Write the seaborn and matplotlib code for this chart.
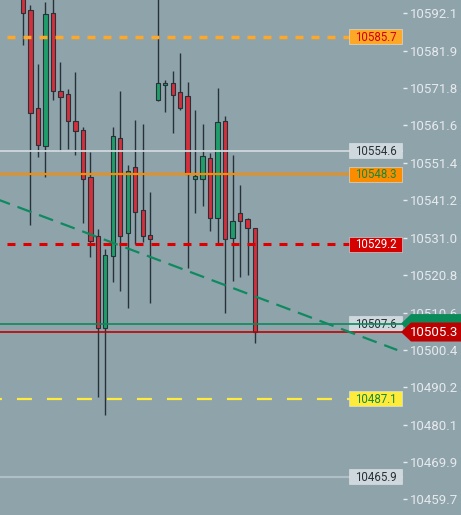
import matplotlib
matplotlib.use("Agg")
import matplotlib.pyplot as plt
import matplotlib.transforms as mtransforms
from matplotlib.patches import Polygon, Rectangle
import seaborn as sns

# candles, oldest -> newest
opens = [10598.0, 10593.0, 10566.3, 10556.0, 10592.2, 10570.9, 10570.1, 10562.8,
         10560.3, 10547.5, 10531.5, 10506.4, 10526.0, 10558.1, 10532.3, 10550.2,
         10538.5, 10531.7, 10568.5, 10572.6, 10573.1, 10570.7, 10569.6, 10547.0,
         10547.0, 10552.7, 10536.4, 10562.8, 10530.9, 10537.7, 10536.1, 10533.6]
highs = [10601.0, 10594.4, 10578.3, 10595.2, 10597.1, 10578.8, 10571.5, 10576.1,
         10561.1, 10554.3, 10533.4, 10527.9, 10561.1, 10570.9, 10550.8, 10563.0,
         10562.0, 10543.4, 10598.4, 10573.9, 10576.4, 10581.3, 10573.4, 10565.8,
         10562.0, 10554.1, 10571.8, 10564.1, 10553.5, 10545.3, 10536.4, 10533.6]
lows = [10583.5, 10534.5, 10553.0, 10547.5, 10568.5, 10554.6, 10555.1, 10553.5,
        10535.0, 10525.7, 10487.6, 10482.7, 10518.9, 10516.5, 10511.8, 10529.3,
        10529.8, 10513.2, 10568.2, 10565.2, 10559.5, 10565.8, 10522.7, 10537.7,
        10539.6, 10532.8, 10529.3, 10510.5, 10519.2, 10520.3, 10520.8, 10502.3]
closes = [10592.2, 10565.0, 10556.2, 10591.9, 10570.9, 10569.3, 10562.8, 10560.0,
          10547.0, 10530.1, 10506.4, 10526.3, 10558.7, 10531.5, 10549.2, 10538.0,
          10531.5, 10530.6, 10573.1, 10573.1, 10569.9, 10566.3, 10548.3, 10547.8,
          10553.2, 10536.4, 10562.5, 10530.6, 10535.5, 10535.5, 10533.6, 10505.3]

price_ticks = [10592.1, 10581.9, 10571.8, 10561.6, 10551.4, 10541.2, 10531.0,
               10520.8, 10510.6, 10500.4, 10490.2, 10480.1, 10469.9, 10459.7]

# horizontal levels
level_prices = [10585.7, 10554.6, 10548.3, 10529.2, 10507.6, 10487.1, 10465.9]
last_price = 10505.3

# trend line
trend_x = [-3.1, 50.0]
trend_y = [10541.2, 10500.4]

BG = "#8fa3ab"
UP = "#1f9e6b"
DOWN = "#d32f3c"
DARK = "#263238"

sns.set_style("dark", {"axes.facecolor": BG, "figure.facecolor": BG})
plt.rcParams["font.family"] = ["Roboto", "DejaVu Sans"]
plt.rcParams["lines.scale_dashes"] = False

fig = plt.figure(figsize=(4.61, 5.15), dpi=100)
ax = fig.add_axes([0, 0, 403 / 461, 1])
ax.set_xlim(-3.07, 50.77)
ax.set_ylim(10455.47, 10595.72)

# candles
xs = list(range(len(opens)))
cols = [UP if c >= o else DOWN for o, c in zip(opens, closes)]
ax.vlines(xs, lows, highs, color=DARK, linewidth=1.0, zorder=2)
ax.bar(xs, [abs(c - o) for o, c in zip(opens, closes)],
       bottom=[min(o, c) for o, c in zip(opens, closes)],
       width=0.58, color=cols, edgecolor=DARK, linewidth=0.8, zorder=3)

# level lines: color, width, dashes
styles = [
    ("#ffa726", 2.5, (6.5, (5.76, 5.76))),
    ("#cfd8dc", 1.3, None),
    ("#fb8c00", 1.6, None),
    ("#dd0000", 2.2, (6.5, (5.76, 5.76))),
    ("#0b8a5a", 1.2, None),
    ("#ffeb3b", 1.6, (9.4, (10.8, 10.8))),
    ("#b0bec5", 1.6, None),
]
xl = ax.get_xlim()
for p, (c, lw, ls) in zip(level_prices, styles):
    ax.plot(xl, [p, p], color=c, linewidth=lw,
            linestyle=ls if ls else "-", zorder=4)
ax.plot(xl, [last_price, last_price], color="#c00000", linewidth=1.2, zorder=4)

sns.lineplot(x=trend_x, y=trend_y, ax=ax, color="#0f8a5f", linewidth=1.6,
             zorder=4)
ax.lines[-1].set_linestyle((3, (10.8, 5.8)))

# axis
ax.set_xticks([])
ax.yaxis.tick_right()
ax.set_yticks(price_ticks)
ax.set_yticklabels([f"{t:.1f}" for t in price_ticks])
ax.tick_params(axis="y", direction="out", length=3, width=1, pad=2,
               colors="#e6eaec", labelsize=9.5)
for s in ax.spines.values():
    s.set_visible(False)

fig.canvas.draw()
ident = mtransforms.IdentityTransform()
x_edge = ax.transAxes.transform((1, 0))[0]

# price tags on the right
tag_styles = [
    ("#ffa726", "#d50000", 5),
    ("#cfd8dc", "#263238", 5),
    ("#fb8c00", "#138a3a", 5),
    ("#d50000", "#ffffff", 5),
    ("#cfd8dc", "#263238", 3.5),
    ("#ffeb3b", "#138a3a", 5),
    ("#cfd8dc", "#263238", 5),
]
for p, (face, tc, z) in zip(level_prices, tag_styles):
    yc = ax.transData.transform((0, p))[1]
    ax.add_patch(Rectangle((x_edge - 54, yc - 7.5), 53, 15, transform=ident,
                           facecolor=face, edgecolor="#e0e6e8", linewidth=0.4,
                           zorder=z, clip_on=False))
    ax.text(x_edge - 27.5, yc - 0.5, f"{p:.1f}", transform=ident, ha="center",
            va="center", fontsize=8.3, color=tc, zorder=z + 0.1)

# green tag partly hidden, then current price tag
for p, face, z in [(level_prices[4], "#0b8a5a", 6), (last_price, "#bf0000", 7)]:
    yc = ax.transData.transform((0, p))[1]
    ax.add_patch(Polygon([(x_edge - 2, yc), (x_edge + 8, yc + 9.5),
                          (470, yc + 9.5), (470, yc - 9.5), (x_edge + 8, yc - 9.5)],
                         closed=True, transform=ident, facecolor=face,
                         edgecolor="none", zorder=z, clip_on=False))
yc = ax.transData.transform((0, last_price))[1]
ax.text(x_edge + 31.5, yc - 0.5, f"{last_price:.1f}", transform=ident,
        ha="center", va="center", fontsize=9.5, color="white", zorder=8)

fig.savefig("out.png", dpi=100, facecolor=BG)
